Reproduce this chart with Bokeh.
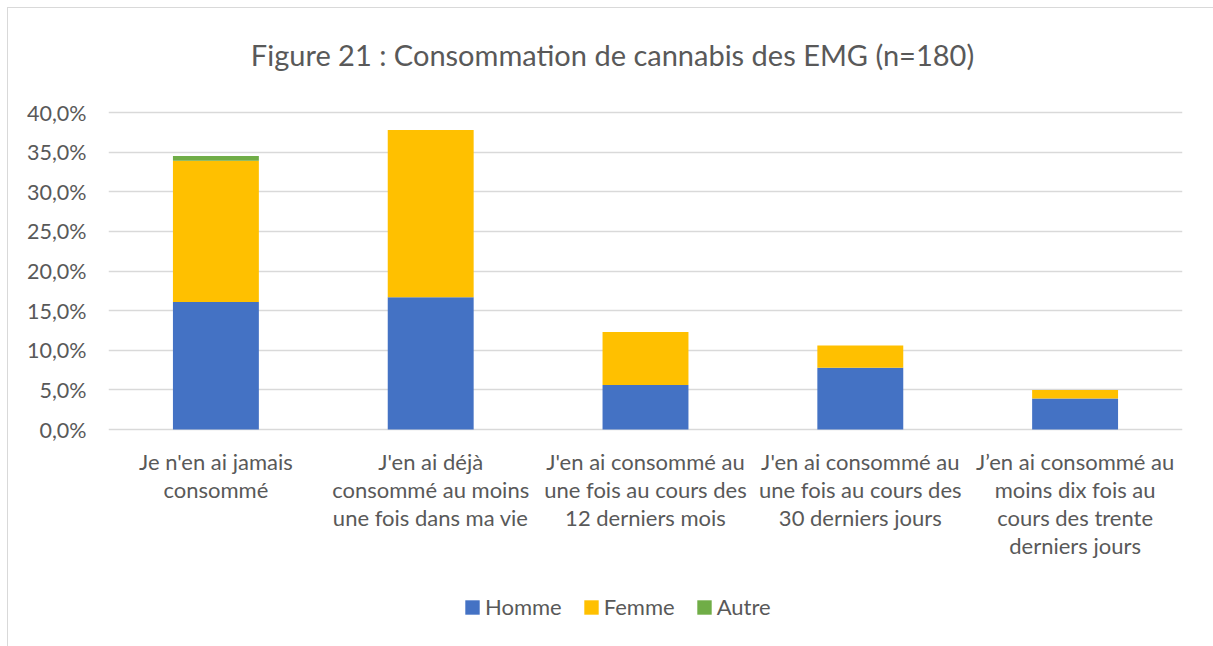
from bokeh.plotting import figure
from bokeh.models import Range1d, FixedTicker, CustomJSTickFormatter, Legend, LegendItem, Label
from bokeh.core.properties import value
from bokeh.embed import file_html
from bokeh.resources import INLINE

categories = [
    "Je n'en ai jamais\nconsommé",
    "J'en ai déjà\nconsommé au moins\nune fois dans ma vie",
    "J'en ai consommé au\nune fois au cours des\n12 derniers mois",
    "J'en ai consommé au\nune fois au cours des\n30 derniers jours",
    "J’en ai consommé au\nmoins dix fois au\ncours des trente\nderniers jours",
]
series = ["Homme", "Femme", "Autre"]
homme = [16.1, 16.7, 5.6, 7.8, 3.9]
femme = [17.8, 21.1, 6.7, 2.8, 1.1]
autre = [0.6, 0.0, 0.0, 0.0, 0.0]
colors = ["#4472C4", "#FFC000", "#70AD47"]
y_ticks = [0, 5, 10, 15, 20, 25, 30, 35, 40]
title_text = "Figure 21 : Consommation de cannabis des EMG (n=180)"

FONT = "Lato"
TXT = "#595959"

# layout (pixels): value axis spans 317 px for 0..40 %, with 104 px above and 217 px below
FRAME_W, FRAME_H = 1074, 638
PPU = 317 / 40.0
y_lo = -217 / PPU
y_hi = 40 + 104 / PPU

p = figure(x_range=categories, y_range=Range1d(y_lo, y_hi), title=None,
           frame_width=FRAME_W, frame_height=FRAME_H, x_axis_location=None,
           output_backend="svg", toolbar_location=None,
           min_border_left=100, min_border_right=31, min_border_top=0, min_border_bottom=0)

data = {"cat": categories, "Homme": homme, "Femme": femme, "Autre": autre}
rs = p.vbar_stack(series, x="cat", width=0.4, color=colors, source=data, line_width=0)

# category labels under the bars
p.text(x=categories, y=[0] * len(categories), text=categories, y_offset=18,
       text_align="center", text_baseline="top", text_font=value(FONT),
       text_font_size="22px", text_line_height=1.04, text_color=TXT)

# title
title = Label(x=(612 - 108) / (FRAME_W / len(categories)), y=(429 - 54) / PPU,
              text=title_text, text_font=FONT, text_font_size="29px", text_color=TXT,
              text_align="center", text_baseline="middle")
p.add_layout(title)

p.outline_line_color = None
p.background_fill_color = "white"
p.border_fill_color = "white"
p.styles = {"border-top": "1px solid #d9d9d9", "border-left": "1px solid #d9d9d9",
            "margin-top": "7px", "margin-left": "7px"}

p.xgrid.grid_line_color = None
p.ygrid.grid_line_color = "#d9d9d9"
p.ygrid.grid_line_width = 1.5

p.yaxis.ticker = FixedTicker(ticks=y_ticks)
p.yaxis.formatter = CustomJSTickFormatter(code="return tick.toFixed(1).replace('.', ',') + '%';")
p.yaxis.axis_line_color = None
p.yaxis.major_tick_line_color = None
p.yaxis.minor_tick_line_color = None
p.yaxis.major_tick_out = 0
p.yaxis.major_tick_in = 0
p.yaxis.major_label_text_font = FONT
p.yaxis.major_label_text_color = TXT
p.yaxis.major_label_text_font_size = "21.5px"
p.yaxis.major_label_standoff = 22
p.x_range.range_padding = 0

legend = Legend(items=[LegendItem(label=s, renderers=[r]) for s, r in zip(series, rs)],
                orientation="horizontal", location=(355, 26),
                label_text_font=FONT, label_text_font_size="22px", label_text_color=TXT,
                glyph_width=18, glyph_height=18, spacing=20, label_standoff=4,
                border_line_color=None, background_fill_alpha=0, margin=0, padding=0)
p.add_layout(legend)

open("out.html", "w").write(file_html(p, INLINE))
